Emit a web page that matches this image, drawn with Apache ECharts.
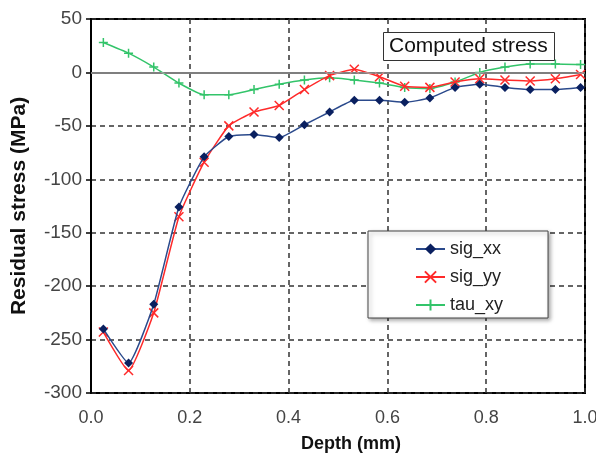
<!DOCTYPE html>
<html>
<head>
<meta charset="utf-8">
<script src="https://cdn.jsdelivr.net/npm/echarts@6/dist/echarts.min.js"></script>
<style>
  html, body { margin: 0; padding: 0; background: #fff; }
  #stressChart { width: 596px; height: 459px; }
</style>
</head>
<body>
<div id="stressChart"></div>
<script>
// depth of each measurement (mm)
var depth = [0.025, 0.076, 0.127, 0.178, 0.229, 0.279, 0.330, 0.381, 0.432, 0.483,
             0.533, 0.584, 0.635, 0.686, 0.737, 0.787, 0.838, 0.889, 0.940, 0.991];
// residual stress (MPa)
var sigXX = [-240, -272, -217, -126, -79, -60, -58, -61, -49, -37,
             -26, -26, -28, -24, -14, -11, -14, -16, -16, -14];
var sigYY = [-243, -279, -225, -135, -84, -50, -37, -31, -16, -3,
             3, -4, -13, -14, -9, -6, -7, -8, -6, -2];
var tauXY = [28, 18, 5, -10, -21, -21, -16, -11, -7, -5,
             -7, -10, -14, -15, -9, 0, 5, 8, 8, 7.5];
var xTicks = [0, 0.2, 0.4, 0.6, 0.8, 1.0];
var yTicks = [-300, -250, -200, -150, -100, -50, 0, 50];

var FONT = 'Liberation Sans, Arial, sans-serif';
var crossPath = 'path://M0,0L10,10M10,0L0,10';
var plusPath = 'path://M5,0L5,10M0,5L10,5';

function pairs(ys) {
    var out = [];
    for (var i = 0; i < depth.length; i++) {
        out.push([depth[i], ys[i]]);
    }
    return out;
}

// split line colours, the zero line is drawn separately in grey
var yLineColors = [];
for (var i = 0; i < yTicks.length; i++) {
    yLineColors.push(yTicks[i] === 0 ? 'rgba(0,0,0,0)' : '#333');
}

var stressOption = {
    animation: false,
    title: {
        text: 'Computed stress',
        left: 383,
        top: 32,
        padding: [4, 7, 4, 6],
        borderColor: '#333',
        borderWidth: 1,
        backgroundColor: '#fff',
        textStyle: { fontFamily: FONT, fontSize: 21, fontWeight: 'normal', color: '#111' }
    },
    legend: {
        orient: 'vertical',
        left: 368,
        top: 231,
        padding: [9, 45, 4, 47],
        itemGap: 10,
        itemWidth: 29,
        itemHeight: 14,
        backgroundColor: '#fff',
        borderColor: '#444',
        borderWidth: 1,
        shadowColor: 'rgba(0,0,0,0.35)',
        shadowBlur: 4,
        shadowOffsetX: 2,
        shadowOffsetY: 2,
        textStyle: { fontFamily: FONT, fontSize: 18, color: '#222' },
        data: ['sig_xx', 'sig_yy', 'tau_xy']
    },
    grid: {
        left: 91,
        right: 11,
        top: 19,
        bottom: 66,
        outerBoundsMode: 'none',
        show: true,
        borderColor: '#000',
        borderWidth: 2
    },
    xAxis: {
        type: 'value',
        min: 0,
        max: 1,
        interval: 0.2,
        name: 'Depth (mm)',
        nameLocation: 'middle',
        nameGap: 42,
        nameTextStyle: { fontFamily: FONT, fontSize: 18, fontWeight: 'bold', color: '#111', padding: [0, 0, 0, 26] },
        axisLine: { show: true, lineStyle: { color: '#000', width: 2 } },
        axisTick: { show: false },
        axisLabel: {
            fontFamily: FONT, fontSize: 18, color: '#444', margin: 16,
            formatter: function (v) { return v.toFixed(1); }
        },
        splitLine: { show: true, lineStyle: { color: '#333', type: [5, 4], width: 1.5 } }
    },
    yAxis: {
        type: 'value',
        min: -300,
        max: 50,
        interval: 50,
        name: 'Residual stress (MPa)',
        nameLocation: 'middle',
        nameGap: 61,
        nameTextStyle: { fontFamily: FONT, fontSize: 21, fontWeight: 'bold', color: '#111' },
        axisLine: { show: true, lineStyle: { color: '#000', width: 2 } },
        axisTick: { show: true, inside: false, length: 5, lineStyle: { color: '#000', width: 1.5 } },
        axisLabel: { fontFamily: FONT, fontSize: 19, color: '#444', margin: 9 },
        splitLine: { show: true, lineStyle: { color: yLineColors, type: [5, 4], width: 1.5 } }
    },
    series: [{
        name: 'sig_xx',
        type: 'line',
        data: pairs(sigXX),
        smooth: 0.15,
        symbol: 'diamond',
        symbolSize: 9,
        z: 4,
        lineStyle: { color: '#2b4a8c', width: 1.5 },
        itemStyle: { color: '#0a2060' },
        markLine: {
            silent: true,
            symbol: 'none',
            label: { show: false },
            lineStyle: { color: '#aaa', type: 'solid', width: 1.5 },
            data: [{ yAxis: 0 }]
        }
    }, {
        name: 'sig_yy',
        type: 'line',
        data: pairs(sigYY),
        smooth: 0.15,
        symbol: crossPath,
        symbolSize: 9,
        z: 3,
        lineStyle: { color: '#ff2a2a', width: 1.5 },
        itemStyle: { color: 'rgba(0,0,0,0)', borderColor: '#ff2a2a', borderWidth: 1.5 }
    }, {
        name: 'tau_xy',
        type: 'line',
        data: pairs(tauXY),
        smooth: 0.15,
        symbol: plusPath,
        symbolSize: 9,
        z: 2,
        lineStyle: { color: '#33c46a', width: 1.5 },
        itemStyle: { color: 'rgba(0,0,0,0)', borderColor: '#33c46a', borderWidth: 1.5 }
    }]
};

var myChart = echarts.init(document.getElementById('stressChart'), null, { renderer: 'canvas' });
myChart.setOption(stressOption);
</script>
</body>
</html>
